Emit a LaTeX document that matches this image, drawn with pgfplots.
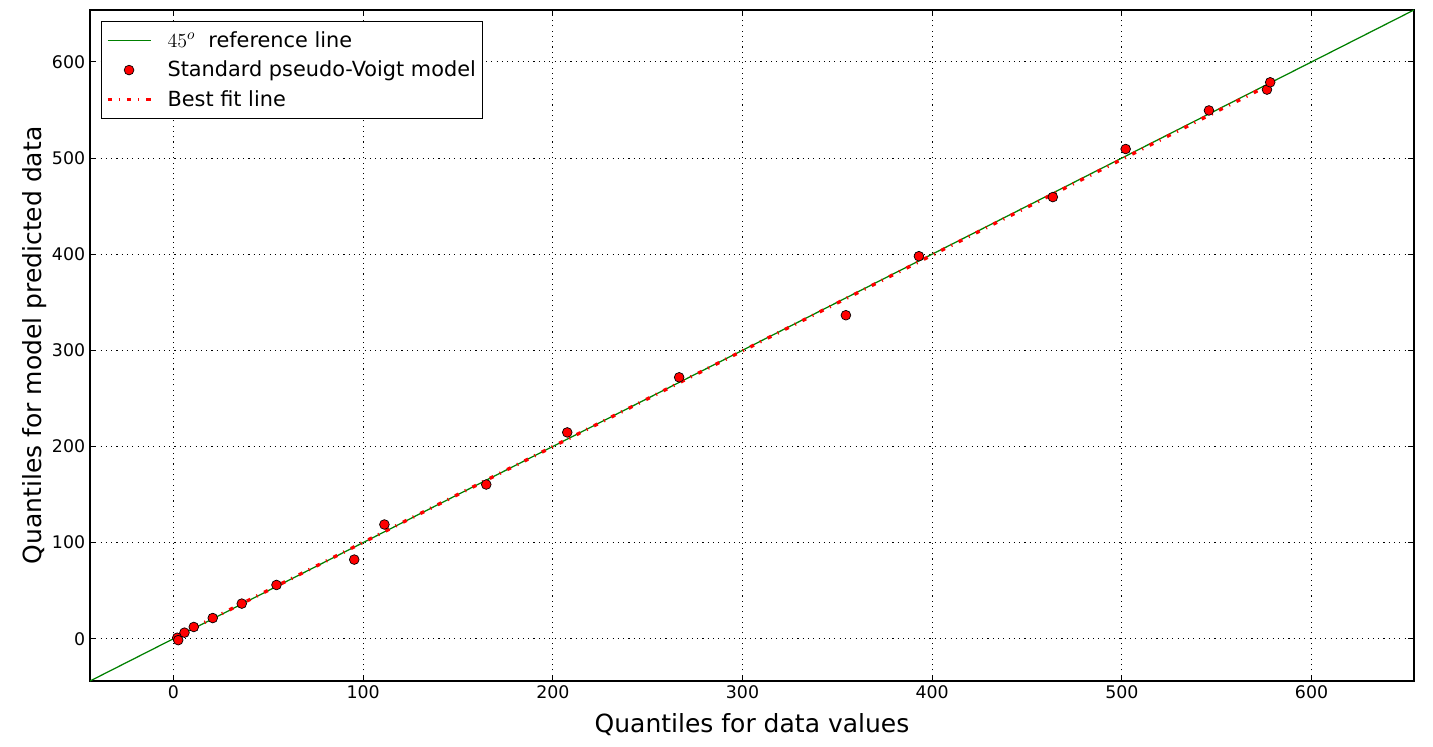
\documentclass[border=0pt]{standalone}
\usepackage{pgfplots}
\pgfplotsset{compat=1.18}
\usepackage{fontspec}
\setmainfont{DejaVu Sans}
\definecolor{mplgreen}{rgb}{0,0.5,0}
\begin{document}
\begin{tikzpicture}
\begin{axis}[
  scale only axis,
  width=953pt, height=483pt,
  xmin=-44, xmax=654, ymin=-44, ymax=654,
  xtick={0,100,...,600}, ytick={0,100,...,600},
  grid=major,
  major grid style={black, line width=0.6pt, dash pattern=on 0.8pt off 3pt},
  tick align=inside,
  major tick length=4pt,
  tick style={black, line width=0.6pt},
  axis line style={line width=0.9pt},
  tick label style={font=\fontsize{12.5}{14}\selectfont},
  /pgf/number format/assume math mode=true,
  xlabel={Quantiles for data values},
  ylabel={Quantiles for model predicted data},
  label style={font=\fontsize{18}{21}\selectfont},
  xlabel style={yshift=-3.5pt},
  ylabel style={yshift=-3pt},
  legend cell align=left,
  legend style={at={(0,1)}, anchor=north west, xshift=8pt, yshift=-8pt,
    line width=0.8pt, font=\fontsize{15}{18}\selectfont,
    row sep=4.5pt, inner ysep=5pt, inner xsep=3pt,
    /tikz/every odd column/.append style={column sep=9pt}},
  legend image code/.code={\draw[mark repeat=2,mark phase=2,#1] plot coordinates {(0pt,0pt) (15.5pt,0pt) (31pt,0pt)};},
]
% 45 degree reference line
\addplot[draw=mplgreen, line width=0.9pt] coordinates {(-60,-60) (700,700)};
\addlegendentry{$45^o$\ \ reference line}
% model quantiles
\addplot[only marks, mark=*, mark size=3.5pt, mark options={fill=red, draw=black, line width=0.5pt}]
coordinates {
(2.0,1.0) (2.5,-1.5) (5.8,6.3) (10.7,12.2) (20.7,21.5) (36.0,36.5) (54.3,55.9)
(95.3,82.3) (111.2,118.8) (164.9,160.4) (207.6,214.6) (266.6,271.9)
(354.5,336.5) (393.0,397.9) (463.6,459.4) (502.0,509.4) (545.9,549.5)
(576.5,571.2) (578.2,578.8)
};
\addlegendentry{Standard pseudo-Voigt model}
% best fit
\addplot[draw=red, line width=2.4pt, dash pattern=on 3pt off 5pt on 0.8pt off 5.2pt] coordinates {(2.0,2.6) (578.2,576.6)};
\addlegendentry{Best fit line}
\end{axis}
\path ([xshift=-64.8pt,yshift=-47.5pt]current axis.south west) rectangle ([xshift=13.7pt,yshift=7.2pt]current axis.north east);
\end{tikzpicture}
\end{document}
